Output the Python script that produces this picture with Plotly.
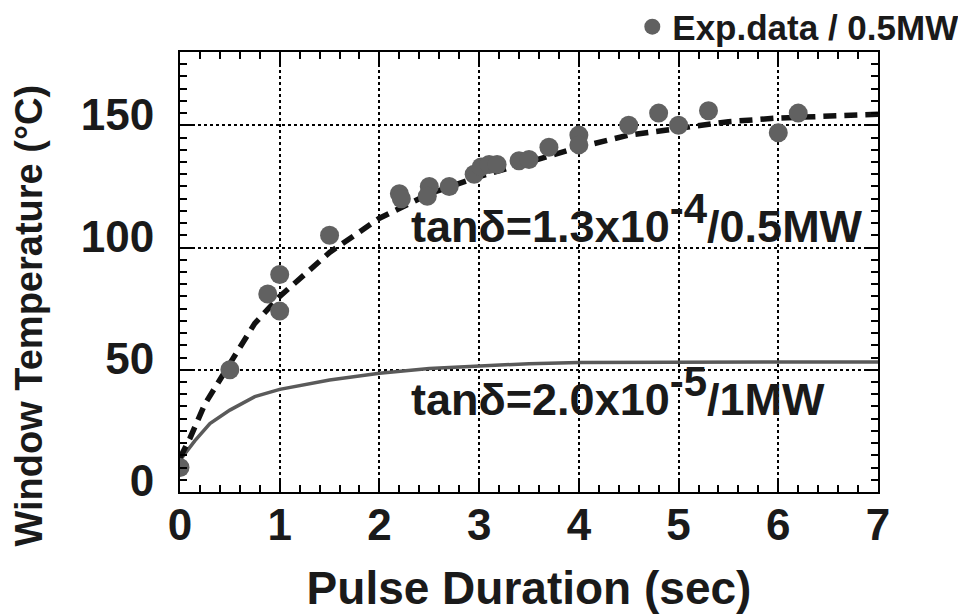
import plotly.graph_objects as go

# Experimental data (0.5 MW)
exp_x = [0.0, 0.5, 0.88, 1.0, 1.0, 1.5, 2.2, 2.22, 2.5, 2.48, 2.7, 2.95, 3.02, 3.1, 3.18, 3.4, 3.5, 3.7, 4.0, 4.0, 4.5, 4.8, 5.0, 5.3, 6.0, 6.2]
exp_y = [10, 50, 81, 74, 89, 105, 122, 120, 125, 121, 125, 130, 133, 134, 134, 135.5, 136, 141, 146, 142, 150, 155, 150, 156, 147, 155]

# Fit tan-delta = 1.3e-4 / 0.5 MW (dashed)
fit1_x = [0, 0.1, 0.25, 0.5, 0.75, 1.0, 1.25, 1.5, 1.75, 2.0, 2.5, 3.0, 3.5, 4.0, 4.5, 5.0, 5.5, 6.0, 6.5, 7.0]
fit1_y = [14, 22, 36, 53, 69, 80, 89, 98, 105, 112, 122, 129, 135, 141, 146, 149, 151.5, 153, 154, 154.5]

# Fit tan-delta = 2.0e-5 / 1 MW (solid)
fit2_x = [0, 0.15, 0.3, 0.5, 0.75, 1.0, 1.5, 2.0, 2.5, 3.0, 3.5, 4.0, 5.0, 6.0, 7.0]
fit2_y = [13, 21, 28, 33.5, 39, 42, 45.8, 48.6, 50.5, 51.5, 52.5, 53, 53.2, 53.2, 53.2]

x_ticks = [0, 1, 2, 3, 4, 5, 6, 7]
y_ticks = [0, 50, 100, 150]

FONT = "Liberation Sans, Arial, Helvetica, sans-serif"
TXT = "#1a1a1a"

fig = go.Figure()
fig.add_trace(go.Scatter(x=fit2_x, y=fit2_y, mode="lines",
                         line=dict(color="#5a5a5a", width=3.5), showlegend=False))
fig.add_trace(go.Scatter(x=fit1_x, y=fit1_y, mode="lines",
                         line=dict(color="#111111", width=5.5, dash="13px,8px"), showlegend=False))
fig.add_trace(go.Scatter(x=exp_x, y=exp_y, mode="markers", name="Exp.data / 0.5MW",
                         marker=dict(color="#616161", size=19, line=dict(width=0)),
                         showlegend=True))

axis_common = dict(
    showline=True, linecolor="black", linewidth=2, mirror="ticks",
    ticks="inside", ticklen=12, tickwidth=2, tickcolor="black",
    showgrid=True, gridcolor="black", gridwidth=1.5, griddash="dot",
    zeroline=False, automargin=False,
    tickfont=dict(family=FONT, size=44, color=TXT, weight="bold"),
)

fig.update_xaxes(range=[0, 7], tickvals=x_ticks, ticktext=[str(v) for v in x_ticks],
                 minor=dict(dtick=0.2, ticks="inside", ticklen=7, tickwidth=1.5, tickcolor="black", showgrid=False),
                 ticklabelstandoff=-7,
                 title=dict(text="Pulse Duration (sec)", standoff=27,
                            font=dict(family=FONT, size=46, color=TXT, weight="bold")),
                 **axis_common)
fig.update_yaxes(range=[0, 180], tickvals=y_ticks, ticktext=[str(v) for v in y_ticks],
                 minor=dict(dtick=5, ticks="inside", ticklen=7, tickwidth=1.5, tickcolor="black", showgrid=False),
                 ticklabelstandoff=15,
                 ticklabelshift=-11,
                 **axis_common)

# y-axis title (sits lower than the plot centre in the reference)
fig.add_annotation(x=(28 - 180) / 698, y=(491.5 - 315) / 440, xref="paper", yref="paper",
                   xanchor="center", yanchor="middle", textangle=-90,
                   text="Window Temperature (\u00b0C)", showarrow=False,
                   font=dict(family=FONT, size=38, color=TXT, weight="bold"))

fig.add_annotation(x=2.30, y=97.5, xref="x", yref="y", xanchor="left", yanchor="bottom",
                   text="tan\u03b4=1.3x10<sup><span style='font-size:42px'>-4</span></sup>/0.5MW",
                   showarrow=False, font=dict(family=FONT, size=45, color=TXT, weight="bold"))
fig.add_annotation(x=2.30, y=26.5, xref="x", yref="y", xanchor="left", yanchor="bottom",
                   text="tan\u03b4=2.0x10<sup><span style='font-size:42px'>-5</span></sup>/1MW",
                   showarrow=False, font=dict(family=FONT, size=45, color=TXT, weight="bold"))

# The page body adds an 8px offset; the figure is sized so the plot lands where the reference has it.
fig.update_layout(
    width=958, height=606,
    margin=dict(l=172, r=88, t=44, b=122, autoexpand=False),
    plot_bgcolor="white", paper_bgcolor="white",
    legend=dict(x=0.648, xanchor="left", y=1.057, yanchor="middle",
                bgcolor="rgba(0,0,0,0)", itemwidth=30,
                font=dict(family=FONT, size=35, color=TXT, weight="bold")),
)

fig.write_html("out.html")
